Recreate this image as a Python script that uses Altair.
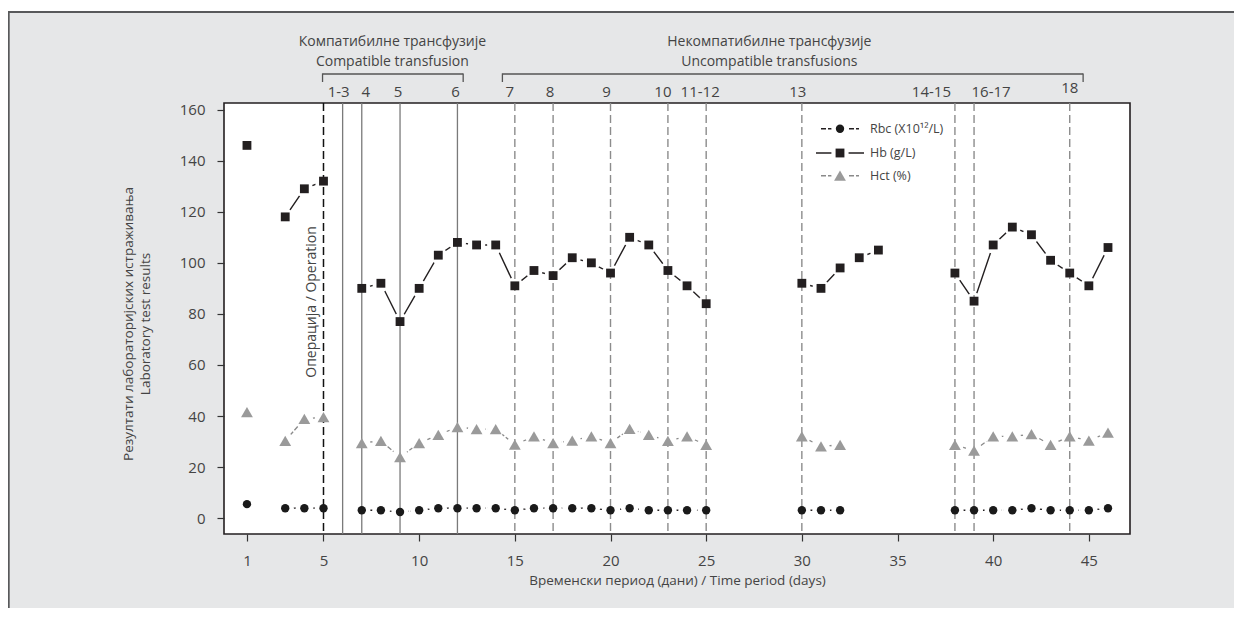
import altair as alt
import pandas as pd

FONT = "Open Sans"
TXT = "#444444"

# ---------------- data ----------------
days = [1, 3, 4, 5, 7, 8, 9, 10, 11, 12, 13, 14, 15, 16, 17, 18, 19, 20, 21, 22, 23, 24, 25,
        30, 31, 32, 33, 34, 38, 39, 40, 41, 42, 43, 44, 45, 46]
hb = [146, 118, 129, 132, 90, 92, 77, 90, 103, 108, 107, 107, 91, 97, 95, 102, 100, 96, 110, 107, 97, 91, 84,
      92, 90, 98, 102, 105, 96, 85, 107, 114, 111, 101, 96, 91, 106]
rbc = [5.5, 3.9, 3.9, 3.9, 3.1, 3.1, 2.4, 3.1, 3.9, 3.9, 3.9, 3.9, 3.1, 3.9, 3.9, 3.9, 3.9, 3.1, 3.9, 3.1, 3.1, 3.1, 3.1,
       3.1, 3.1, 3.1, None, None, 3.1, 3.1, 3.1, 3.1, 3.9, 3.1, 3.1, 3.1, 3.9]
hct = [41.5, 30.3, 38.9, 39.6, 29.4, 30.3, 23.9, 29.4, 32.6, 35.7, 34.9, 34.9, 28.8, 32.0, 29.4, 30.4, 32.0, 29.4, 35.0,
       32.6, 30.3, 32.0, 28.7, 32.0, 28.1, 28.7, None, None, 28.7, 26.5, 32.0, 32.0, 32.9, 28.7, 32.0, 30.4, 33.5]
hb_breaks_after = [32]

operation_day = [5]
compatible_days = [6, 7, 9, 12]
compatible_labels = ["1-3", "4", "5", "6"]
incompatible_days = [15, 17, 20, 23, 25, 30, 38, 39, 44]
incompatible_labels = ["7", "8", "9", "10", "11-12", "13", "14-15", "16-17", "18"]
compatible_span = [4.95, 12.3]
incompatible_span = [14.35, 44.7]

legend_labels = ["Rbc (X10\u00b9\u00b2/L)", "Hb (g/L)", "Hct (%)"]
x_ticks = [1, 5, 10, 15, 20, 25, 30, 35, 40, 45]
y_ticks = [0, 20, 40, 60, 80, 100, 120, 140, 160]

# ---------------- layout / style ----------------
W, H = 906, 431
XDOM = [-0.2, 47.15]
YDOM = [-6.2, 162.6]
PX_PER_DAY = W / (XDOM[1] - XDOM[0])
label_dx_px = [-4, 4, -2, -2, -5, -3, -4, -5, -6, -4, -23.5, 17, 0]
HALO = 300


def segments(ds, vals, breaks=()):
    rows, g, prev = [], 0, None
    for d, v in zip(ds, vals):
        if v is None:
            continue
        if prev is not None and (d - prev > 1 or prev in breaks):
            g += 1
        rows.append({"day": d, "value": v, "seg": g})
        prev = d
    return pd.DataFrame(rows)


hb_df = segments(days, hb, hb_breaks_after)
rbc_df = segments(days, rbc)
hct_df = segments(days, hct)
all_pts = pd.concat([hb_df, rbc_df, hct_df], ignore_index=True)

xs = alt.Scale(domain=XDOM, nice=False, zero=False)
ys = alt.Scale(domain=YDOM, nice=False, zero=False)
X = alt.X("day:Q", scale=xs, axis=alt.Axis(values=x_ticks, title="Временски период (дани) / Time period (days)",
                                           labelPadding=12, titlePadding=5, titleFontSize=13.5))
Y = alt.Y("value:Q", scale=ys, axis=alt.Axis(values=y_ticks,
                                             title=["Резултати лабораторијских истраживања", "Laboratory test results"],
                                             labelPadding=12, titlePadding=27, titleLineHeight=17,
                                             titleFontSize=13.5, titleY=H / 2 + 5))

base_axes = alt.Chart(hb_df).mark_point(opacity=0).encode(x=X, y=Y)

# lines (R type="b" look: gaps around points made with white halos)
hb_line = alt.Chart(hb_df).mark_line(color="#231f20", strokeWidth=1.4).encode(
    x=alt.X("day:Q", scale=xs), y=alt.Y("value:Q", scale=ys), detail="seg:N")
rbc_line = alt.Chart(rbc_df).mark_line(color="#231f20", strokeWidth=1.3, strokeDash=[5, 2]).encode(
    x=alt.X("day:Q", scale=xs), y=alt.Y("value:Q", scale=ys), detail="seg:N")
hct_line = alt.Chart(hct_df).mark_line(color="#8a8a8a", strokeWidth=1.3, strokeDash=[5, 2]).encode(
    x=alt.X("day:Q", scale=xs), y=alt.Y("value:Q", scale=ys), detail="seg:N")
halos = alt.Chart(all_pts).mark_point(shape="circle", filled=True, fill="white", stroke="white", strokeWidth=0,
                                      opacity=1, fillOpacity=1, size=HALO).encode(
    x=alt.X("day:Q", scale=xs), y=alt.Y("value:Q", scale=ys))

# vertical event lines
rule_comp = alt.Chart(pd.DataFrame({"day": compatible_days})).mark_rule(color="#7a7a7a", strokeWidth=1.3).encode(
    x=alt.X("day:Q", scale=xs))
rule_op = alt.Chart(pd.DataFrame({"day": operation_day})).mark_rule(color="#111111", strokeWidth=1.5,
                                                                     strokeDash=[8, 4]).encode(x=alt.X("day:Q", scale=xs))
rule_inc = alt.Chart(pd.DataFrame({"day": incompatible_days})).mark_rule(color="#8c8c8c", strokeWidth=1.4,
                                                                         strokeDash=[8, 4]).encode(x=alt.X("day:Q", scale=xs))

# markers
hb_pts = alt.Chart(hb_df).mark_point(shape="square", filled=True, color="#231f20", opacity=1, size=78).encode(
    x=alt.X("day:Q", scale=xs), y=alt.Y("value:Q", scale=ys))
rbc_pts = alt.Chart(rbc_df).mark_point(shape="circle", filled=True, color="#1a1a1a", opacity=1, size=70).encode(
    x=alt.X("day:Q", scale=xs), y=alt.Y("value:Q", scale=ys))
hct_pts = alt.Chart(hct_df).mark_point(shape="triangle-up", filled=True, color="#9a9a9a", opacity=1, size=140).encode(
    x=alt.X("day:Q", scale=xs), y=alt.Y("value:Q", scale=ys))

op_text = alt.Chart(pd.DataFrame({"day": operation_day, "t": ["Операција / Operation"]})).mark_text(
    angle=270, align="center", baseline="bottom", dy=-4, font=FONT, fontSize=14, color=TXT).encode(
    x=alt.X("day:Q", scale=xs), y=alt.value(199), text="t:N")

# top annotations
lab_df = pd.DataFrame({"label": compatible_labels + incompatible_labels,
                       "day": compatible_days + incompatible_days})
lab_df["xpos"] = lab_df["day"] + pd.Series(label_dx_px) / PX_PER_DAY
lab_main = lab_df[lab_df["label"] != "18"]
lab_18 = lab_df[lab_df["label"] == "18"]
top_lab = alt.Chart(lab_main).mark_text(font=FONT, fontSize=15, color=TXT, baseline="middle").encode(
    x=alt.X("xpos:Q", scale=xs), y=alt.value(-11.5), text="label:N")
top_lab18 = alt.Chart(lab_18).mark_text(font=FONT, fontSize=15, color=TXT, baseline="middle").encode(
    x=alt.X("xpos:Q", scale=xs), y=alt.value(-15), text="label:N")

br_df = pd.DataFrame({"x0": [compatible_span[0], incompatible_span[0]],
                      "x1": [compatible_span[1], incompatible_span[1]]})
br_h = alt.Chart(br_df).mark_rule(color="#555555", strokeWidth=1.3).encode(
    x=alt.X("x0:Q", scale=xs), x2="x1:Q", y=alt.value(-29), y2=alt.value(-29))
br_v_df = pd.DataFrame({"x": compatible_span + incompatible_span})
br_v = alt.Chart(br_v_df).mark_rule(color="#555555", strokeWidth=1.3).encode(
    x=alt.X("x:Q", scale=xs), y=alt.value(-29.6), y2=alt.value(-21))

title_df = pd.DataFrame({"day": [8.6, 28.3],
                         "l1": ["Компатибилне трансфузије", "Некомпатибилне трансфузије"],
                         "l2": ["Compatible transfusion", "Uncompatible transfusions"]})
tt1 = alt.Chart(title_df).mark_text(font=FONT, fontSize=14, color=TXT, baseline="middle").encode(
    x=alt.X("day:Q", scale=xs), y=alt.value(-61.5), text="l1:N")
tt2 = alt.Chart(title_df).mark_text(font=FONT, fontSize=14, color=TXT, baseline="middle").encode(
    x=alt.X("day:Q", scale=xs), y=alt.value(-41.5), text="l2:N")

# legend (manual, R style)
leg_y = [25.7, 50, 72.7]
leg_sym_x = 616
leg_txt_x = 646
leg_layers = []
specs = [("circle", "#1a1a1a", 70, "#231f20", [5, 2], 597, 635),
         ("square", "#231f20", 78, "#231f20", None, 592, 640),
         ("triangle-up", "#9a9a9a", 140, "#8a8a8a", [5, 2], 597, 635)]
for i, (lab, (shape, col, sz, lcol, dash, x0, x1)) in enumerate(zip(legend_labels, specs)):
    b = alt.Chart(pd.DataFrame({"label": [lab]}))
    if dash:
        ln = b.mark_rule(color=lcol, strokeWidth=1.4, strokeDash=dash)
    else:
        ln = b.mark_rule(color=lcol, strokeWidth=1.4)
    leg_layers.append(ln.encode(x=alt.value(x0), x2=alt.value(x1), y=alt.value(leg_y[i])))
    leg_layers.append(b.mark_point(shape="circle", filled=True, fill="white", stroke="white", strokeWidth=0,
                                   opacity=1, fillOpacity=1, size=HALO).encode(
        x=alt.value(leg_sym_x), y=alt.value(leg_y[i])))
    leg_layers.append(b.mark_point(shape=shape, filled=True, color=col, opacity=1, size=sz).encode(
        x=alt.value(leg_sym_x), y=alt.value(leg_y[i])))
    leg_layers.append(b.mark_text(align="left", baseline="middle", font=FONT, fontSize=12.5, color=TXT).encode(
        x=alt.value(leg_txt_x), y=alt.value(leg_y[i]), text="label:N"))

# outer frame (white strip above, dark top/left border)
one = alt.Chart(pd.DataFrame({"k": [0]}))
strip = one.mark_rect(color="white").encode(x=alt.value(-230), x2=alt.value(1020), y=alt.value(-110), y2=alt.value(-91))
top_border = one.mark_rule(color="#58595b", strokeWidth=1.8).encode(
    x=alt.value(-216), x2=alt.value(1020), y=alt.value(-91), y2=alt.value(-91))
left_border = one.mark_rule(color="#58595b", strokeWidth=1.8).encode(
    x=alt.value(-215.2), x2=alt.value(-215.2), y=alt.value(-92), y2=alt.value(520))

chart = alt.layer(
    strip, top_border, left_border,
    base_axes, hb_line, rbc_line, hct_line, halos,
    rule_comp, rule_op, rule_inc,
    hb_pts, rbc_pts, hct_pts, op_text,
    top_lab, top_lab18, br_h, br_v, tt1, tt2,
    *leg_layers
).properties(
    width=W, height=H,
    autosize=alt.AutoSizeParams(type="none"),
    padding={"left": 216, "top": 95, "right": 104, "bottom": 74},
    background="#e6e7e8",
).configure_view(
    fill="white", stroke="#231f20", strokeWidth=1.6
).configure_axis(
    labelFont=FONT, titleFont=FONT, labelFontSize=15, titleFontSize=15, labelColor=TXT, titleColor=TXT,
    tickColor="#333333", tickSize=7, tickWidth=1.2, domain=False, grid=False, titleFontWeight="normal"
)

chart.save("out.html", embed_options={"renderer": "svg", "actions": False})
